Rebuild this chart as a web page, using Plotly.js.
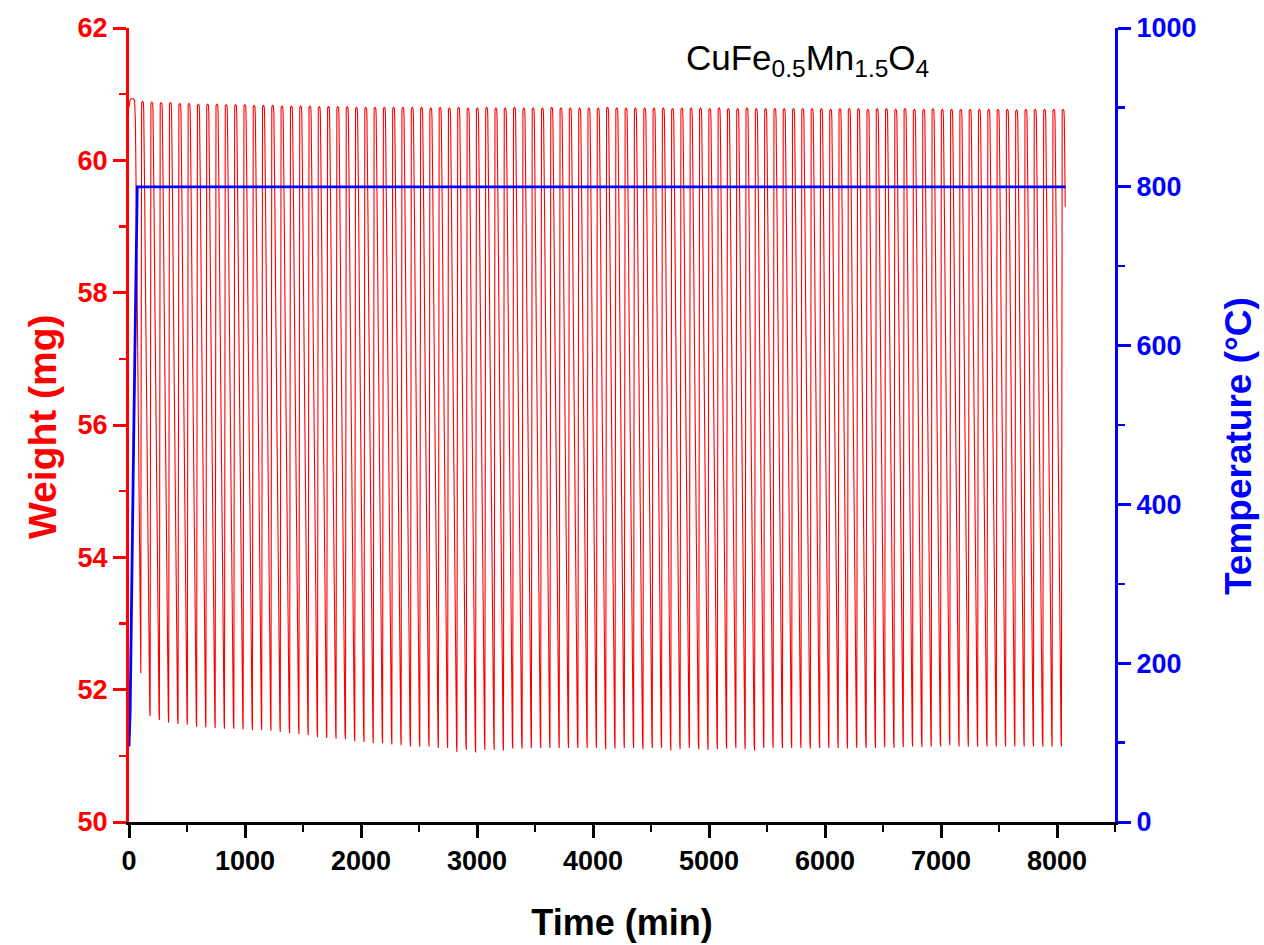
<!DOCTYPE html>
<html>
<head>
<meta charset="utf-8">
<script src="https://cdn.plot.ly/plotly-3.0.1.min.js"></script>
<style>html,body{margin:0;padding:0;background:#fff;}#chart{width:1264px;height:945px;}</style>
</head>
<body>
<div id="chart"></div>
<script>
// ---- data ----
// time (min) of each cycle's weight minimum
const bottomTimes = [102,182,262,342,423,503,583,663,743,823,904,984,1064,1144,1224,1304,1385,1465,1545,1625,
  1705,1785,1866,1946,2026,2106,2186,2266,2346,2427,2507,2587,2667,2747,2827,2908,2988,3068,3148,3228,
  3308,3389,3469,3549,3629,3709,3789,3870,3950,4030,4110,4190,4270,4350,4431,4511,4591,4671,4751,4831,
  4912,4992,5072,5152,5232,5312,5393,5473,5553,5633,5713,5793,5874,5954,6034,6114,6194,6274,6355,6435,
  6515,6595,6675,6755,6836,6916,6996,7076,7156,7236,7316,7397,7477,7557,7637,7717,7797,7878,7958,8038];
// weight minimum of each cycle (mg)
const bottomWeights = [52.25,51.60,51.54,51.50,51.48,51.47,51.44,51.43,51.42,51.41,51.41,51.40,51.39,51.39,51.38,51.36,51.34,51.33,51.31,51.28,
  51.27,51.26,51.25,51.22,51.21,51.19,51.19,51.17,51.16,51.14,51.14,51.14,51.12,51.12,51.06,51.09,51.05,51.09,51.09,51.08,
  51.11,51.11,51.12,51.12,51.12,51.12,51.12,51.12,51.12,51.12,51.10,51.11,51.12,51.12,51.10,51.12,51.12,51.08,51.10,51.12,
  51.10,51.09,51.10,51.11,51.12,51.10,51.08,51.12,51.12,51.12,51.12,51.12,51.11,51.12,51.12,51.12,51.11,51.12,51.12,51.12,
  51.13,51.12,51.13,51.14,51.13,51.14,51.14,51.16,51.14,51.14,51.14,51.14,51.14,51.14,51.14,51.14,51.14,51.14,51.14,51.14];
// weight maximum of each cycle (mg)
const peakWeights = [60.89,60.88,60.87,60.87,60.86,60.86,60.85,60.85,60.85,60.84,60.84,60.84,60.83,60.83,60.83,60.82,60.82,60.82,60.82,60.81,
  60.81,60.81,60.81,60.80,60.80,60.80,60.80,60.80,60.80,60.80,60.80,60.79,60.80,60.79,60.80,60.79,60.79,60.80,60.79,60.79,
  60.80,60.79,60.79,60.79,60.80,60.79,60.79,60.79,60.79,60.79,60.80,60.79,60.79,60.79,60.79,60.79,60.79,60.78,60.79,60.79,
  60.79,60.78,60.79,60.78,60.78,60.79,60.78,60.78,60.78,60.78,60.78,60.78,60.78,60.78,60.77,60.78,60.78,60.78,60.77,60.78,
  60.78,60.77,60.78,60.77,60.77,60.78,60.77,60.77,60.77,60.77,60.77,60.77,60.77,60.77,60.76,60.77,60.77,60.77,60.77,60.77];
// shape of one cycle: minutes after the minimum and fraction of the swing
const riseOffsets = [0, 1, 2, 3, 4.5, 7, 15];
const riseFractions = [0, 0.3, 0.75, 0.93, 0.985, 0.998, 1.0];
const fallOffsets = [22, 25, 28, 34, 40, 52, 64, 72, 77];
const fallFractions = [0.998, 0.985, 0.95, 0.83, 0.70, 0.44, 0.19, 0.05, 0.01];
// start of the run (before first minimum) and last recorded point
const startTimes = [0, 8, 18, 35, 48, 55, 62, 75, 88, 98];
const startWeights = [60.80, 60.90, 60.93, 60.93, 60.91, 60.60, 59.50, 57.00, 54.50, 52.60];
const endTime = 8071, endWeight = 59.30;
// temperature programme
const tempTimes = [0, 10, 40, 66, 71, 8074];
const tempValues = [95, 140, 480, 790, 800, 800];
// axis ticks
const xTicks = [0,1000,2000,3000,4000,5000,6000,7000,8000];
const yTicks = [50,52,54,56,58,60,62];
const y2Ticks = [0,200,400,600,800,1000];

// ---- build weight curve ----
const wt = [], ww = [];
startTimes.forEach((t,i)=>{wt.push(t); ww.push(startWeights[i]);});
for (let k = 0; k < bottomTimes.length; k++) {
  const tb = bottomTimes[k], b = bottomWeights[k], p = peakWeights[k];
  riseOffsets.forEach((o,i)=>{wt.push(tb+o); ww.push(b + riseFractions[i]*(p-b));});
  if (k < bottomTimes.length-1) {
    const bn = bottomWeights[k+1];
    fallOffsets.forEach((o,i)=>{wt.push(tb+o); ww.push(bn + fallFractions[i]*(p-bn));});
  } else {
    fallOffsets.forEach((o,i)=>{ if (tb+o < endTime) { wt.push(tb+o); ww.push(b + fallFractions[i]*(p-b)); } });
    wt.push(endTime); ww.push(endWeight);
  }
}

const FONT = 'Liberation Sans, Arial, sans-serif';
const RED = '#ff0000', BLUE = '#0000ff';

const traces = [
  {x: wt, y: ww, type: 'scatter', mode: 'lines', line: {color: RED, width: 1.1}, xaxis: 'x', yaxis: 'y', hoverinfo: 'skip'},
  {x: tempTimes, y: tempValues, type: 'scatter', mode: 'lines', line: {color: BLUE, width: 2.8}, xaxis: 'x', yaxis: 'y2', hoverinfo: 'skip'}
];

const tickFont = (c)=>({family: FONT, size: 27, color: c, weight: 'bold'});

const layout = {
  width: 1264, height: 945,
  margin: {l: 129, r: 149, t: 28, b: 123},
  paper_bgcolor: '#fff', plot_bgcolor: '#fff',
  showlegend: false,
  xaxis: {
    range: [0, 8500], tickvals: xTicks, ticktext: xTicks.map(String),
    ticks: 'outside', ticklen: 13, tickwidth: 3, tickcolor: '#000',
    minor: {dtick: 500, ticks: 'outside', ticklen: 7, tickwidth: 2.5, tickcolor: '#000', showgrid: false},
    showline: true, linecolor: '#000', linewidth: 3, showgrid: false, zeroline: false,
    tickfont: tickFont('#000'),
    title: {text: 'Time (min)', font: {family: FONT, size: 36, color: '#000', weight: 'bold'}, standoff: 35},
    automargin: false
  },
  xaxis2: {
    overlaying: 'x', side: 'top', anchor: 'y', range: [0, 8500], tickvals: xTicks,
    ticks: 'inside', ticklen: 13, tickwidth: 3, tickcolor: '#000', showticklabels: false,
    minor: {dtick: 500, ticks: 'inside', ticklen: 7, tickwidth: 2.5, tickcolor: '#000', showgrid: false},
    showline: true, linecolor: '#000', linewidth: 3, showgrid: false, zeroline: false
  },
  yaxis: {
    range: [50, 62], tickvals: yTicks, ticktext: yTicks.map(String),
    ticks: 'outside', ticklen: 13, tickwidth: 3, tickcolor: RED,
    minor: {dtick: 1, ticks: 'outside', ticklen: 7, tickwidth: 2.5, tickcolor: RED, showgrid: false},
    showline: true, linecolor: RED, linewidth: 3, showgrid: false, zeroline: false,
    tickfont: tickFont(RED),
    automargin: false
  },
  yaxis2: {
    overlaying: 'y', side: 'right', anchor: 'x', range: [0, 1000], tickvals: y2Ticks, ticktext: y2Ticks.map(String),
    ticks: 'outside', ticklen: 13, tickwidth: 3, tickcolor: BLUE,
    minor: {dtick: 100, ticks: 'outside', ticklen: 7, tickwidth: 2.5, tickcolor: BLUE, showgrid: false},
    showline: true, linecolor: BLUE, linewidth: 3, showgrid: false, zeroline: false,
    tickfont: tickFont(BLUE),
    automargin: false
  },
  annotations: [
    {xref: 'paper', yref: 'paper', x: 0.563, y: 0.99, xanchor: 'left', yanchor: 'top',
     text: 'CuFe<sub>0.5</sub>Mn<sub>1.5</sub>O<sub>4</sub>', showarrow: false,
     font: {family: FONT, size: 35, color: '#000'}},
    {xref: 'paper', yref: 'paper', x: (42 - 129) / 986, y: 1 - (427 - 28) / 794, xanchor: 'center', yanchor: 'middle',
     textangle: -90, text: 'Weight (mg)', showarrow: false,
     font: {family: FONT, size: 39, color: RED, weight: 'bold'}},
    {xref: 'paper', yref: 'paper', x: (1238 - 129) / 986, y: 1 - (446 - 28) / 794, xanchor: 'center', yanchor: 'middle',
     textangle: -90, text: 'Temperature (°C)', showarrow: false,
     font: {family: FONT, size: 37, color: BLUE, weight: 'bold'}}
  ]
};

Plotly.newPlot('chart', traces, layout, {staticPlot: true, displayModeBar: false});
</script>
</body>
</html>
